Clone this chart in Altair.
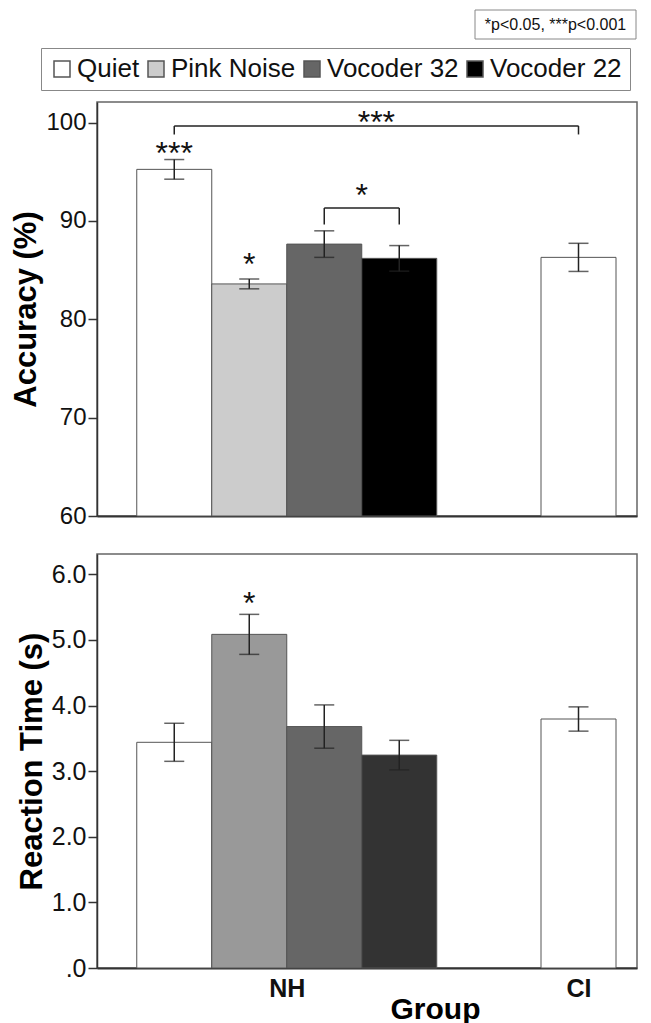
import altair as alt
import pandas as pd

# ---------------- data ----------------
conditions = ["Quiet", "Pink Noise", "Vocoder 32", "Vocoder 22"]
groups = ["NH", "CI"]
bar_group = ["NH", "NH", "NH", "NH", "CI"]
bar_cond = ["Quiet", "Pink Noise", "Vocoder 32", "Vocoder 22", "Quiet"]

acc_mean = [95.25, 83.6, 87.65, 86.2, 86.3]
acc_err = [1.0, 0.5, 1.35, 1.3, 1.43]
rt_mean = [3.44, 5.085, 3.68, 3.245, 3.795]
rt_err = [0.29, 0.305, 0.33, 0.225, 0.185]

acc_ticks = [60, 70, 80, 90, 100]
rt_ticks = [0, 1, 2, 3, 4, 5, 6]

note_text = "*p<0.05, ***p<0.001"

# significance annotations: (group, condition, label, label value)
acc_marks = [("NH", "Quiet", "***", 97.28), ("NH", "Pink Noise", "*", 85.99)]
rt_marks = [("NH", "Pink Noise", "*", 5.63)]
# brackets: (from group, cond, to group, cond, line value, drop value, label, label value)
acc_brackets = [
    ("NH", "Quiet", "CI", "Quiet", 99.67, 98.8, "***", 100.5),
    ("NH", "Vocoder 32", "NH", "Vocoder 22", 91.33, 89.65, "*", 93.05),
]

# ---------------- styles / layout ----------------
acc_colors = ["#ffffff", "#cccccc", "#666666", "#000000"]
rt_colors = ["#ffffff", "#999999", "#666666", "#333333"]
FONT = "Liberation Sans"
BAR_PX = 75.0
TOP_W, BOT_W, H = 540, 540, 414
GROUP_CENTER = {"NH": 2.53, "CI": 6.42}


def bar_x(g, c):
    members = [cc for gg, cc in zip(bar_group, bar_cond) if gg == g]
    k = members.index(c)
    return GROUP_CENTER[g] + k - (len(members) - 1) / 2


def build(means, errs):
    rows = []
    for g, c, m, e in zip(bar_group, bar_cond, means, errs):
        xc = bar_x(g, c)
        rows.append(dict(group=g, cond=c, mean=m, lo=m - e, hi=m + e,
                         xc=xc, xl=xc - 0.5, xr=xc + 0.5))
    return pd.DataFrame(rows)


acc_df = build(acc_mean, acc_err)
rt_df = build(rt_mean, rt_err)


def panel(df, width, ymin, ymax, ticks, colors, ytitle, label_fs, label_expr,
          xaxis, legend, marks, brackets, extra=None):
    xs = alt.Scale(domain=[0, width / BAR_PX], nice=False, zero=False)
    ys = alt.Scale(domain=[ymin, ymax], nice=False, zero=False)
    yaxis = alt.Axis(values=ticks, title=ytitle, labelExpr=label_expr,
                     labelFontSize=label_fs, titleFontSize=31, titleFontWeight="bold",
                     titlePadding=3, tickSize=9, tickWidth=1.5, labelPadding=2,
                     domainColor="#333", domainWidth=1.5, grid=False)
    base = alt.Chart(df)
    bars = base.mark_bar(stroke="#555", strokeWidth=1).encode(
        x=alt.X("xl:Q", scale=xs, axis=xaxis),
        x2="xr:Q",
        y=alt.Y("mean:Q", scale=ys, axis=yaxis),
        y2=alt.datum(ymin),
        color=alt.Color("cond:N", scale=alt.Scale(domain=conditions, range=colors),
                        legend=legend),
    )
    err = base.mark_rule(color="#222", strokeWidth=1.5).encode(
        x=alt.X("xc:Q", scale=xs), y=alt.Y("lo:Q", scale=ys), y2="hi:Q")
    cap_lo = base.mark_tick(color="#222", orient="horizontal", size=20, thickness=1.5).encode(
        x=alt.X("xc:Q", scale=xs), y=alt.Y("lo:Q", scale=ys))
    cap_hi = base.mark_tick(color="#222", orient="horizontal", size=20, thickness=1.5).encode(
        x=alt.X("xc:Q", scale=xs), y=alt.Y("hi:Q", scale=ys))
    layers = [bars, err, cap_lo, cap_hi]

    txt_rows = [dict(x=bar_x(g, c), y=v, t=t) for g, c, t, v in marks]
    hl_rows, dr_rows = [], []
    for g1, c1, g2, c2, ly, dy_, t, tv in brackets:
        x1, x2 = bar_x(g1, c1), bar_x(g2, c2)
        hl_rows.append(dict(x=x1, x2=x2, y=ly))
        dr_rows += [dict(x=x1, y=ly, y2=dy_), dict(x=x2, y=ly, y2=dy_)]
        txt_rows.append(dict(x=(x1 + x2) / 2, y=tv, t=t))
    if hl_rows:
        layers.append(alt.Chart(pd.DataFrame(hl_rows)).mark_rule(color="#222", strokeWidth=1.5).encode(
            x=alt.X("x:Q", scale=xs), x2="x2:Q", y=alt.Y("y:Q", scale=ys)))
        layers.append(alt.Chart(pd.DataFrame(dr_rows)).mark_rule(color="#222", strokeWidth=1.5).encode(
            x=alt.X("x:Q", scale=xs), y=alt.Y("y:Q", scale=ys), y2="y2:Q"))
    layers.append(alt.Chart(pd.DataFrame(txt_rows)).mark_text(
        font=FONT, fontSize=32, color="#111", baseline="middle", dy=5).encode(
        x=alt.X("x:Q", scale=xs), y=alt.Y("y:Q", scale=ys), text="t:N"))
    if extra:
        layers += extra
    return alt.layer(*layers).properties(width=width, height=H)


note_df = pd.DataFrame({"t": [note_text]})
note_box = alt.Chart(note_df).mark_rect(fill="white", stroke="#888", strokeWidth=1).encode(
    x=alt.value(378), x2=alt.value(539), y=alt.value(-92), y2=alt.value(-63))
note_txt = alt.Chart(note_df).mark_text(font=FONT, fontSize=16, color="#111",
                                        align="center", baseline="middle").encode(
    x=alt.value(458.5), y=alt.value(-77.5), text="t:N")

top_legend = alt.Legend(
    title=None, orient="none", legendX=-56, legendY=-54, direction="horizontal",
    symbolType="square", symbolSize=256, symbolStrokeColor="#555", symbolStrokeWidth=1.5,
    labelFont=FONT, labelFontSize=26, labelColor="#111", labelOffset=2, labelLimit=300,
    columnPadding=3, padding=8, strokeColor="#888", fillColor="white")

top_xaxis = alt.Axis(labels=False, ticks=False, title=None, domainColor="#333",
                     domainWidth=2, grid=False)
mid = (GROUP_CENTER[groups[0]] + GROUP_CENTER[groups[1]]) / 2
bot_xaxis = alt.Axis(values=[GROUP_CENTER[g] for g in groups],
                     labelExpr=f"datum.value < {mid} ? '{groups[0]}' : '{groups[1]}'",
                     ticks=False, labelFontSize=25, labelFontWeight="bold", labelPadding=8,
                     title="Group", titleFontSize=30, titleFontWeight="bold",
                     titleX=338, titleY=50, titleBaseline="alphabetic",
                     domainColor="#333", domainWidth=2, grid=False)

top = panel(acc_df, TOP_W, 60, 102.1, acc_ticks, acc_colors, "Accuracy (%)", 24,
            "format(datum.value, 'd')", top_xaxis, top_legend, acc_marks, acc_brackets,
            extra=[note_box, note_txt])
bottom = panel(rt_df, BOT_W, 0, 6.31, rt_ticks, rt_colors, "Reaction Time (s)", 25,
               "datum.value == 0 ? '.0' : format(datum.value, '.1f')", bot_xaxis, None,
               rt_marks, [])

chart = alt.vconcat(top, bottom, spacing=24).resolve_scale(
    color="independent").properties(
    padding={"left": 2, "top": 0, "right": 0, "bottom": 0}).configure_view(
    stroke="#666", strokeWidth=1.5).configure_axis(
    labelFont=FONT, titleFont=FONT, labelColor="#111", titleColor="#000",
    tickColor="#333", grid=False)

chart.save("out.html", embed_options={"renderer": "svg", "actions": False})
